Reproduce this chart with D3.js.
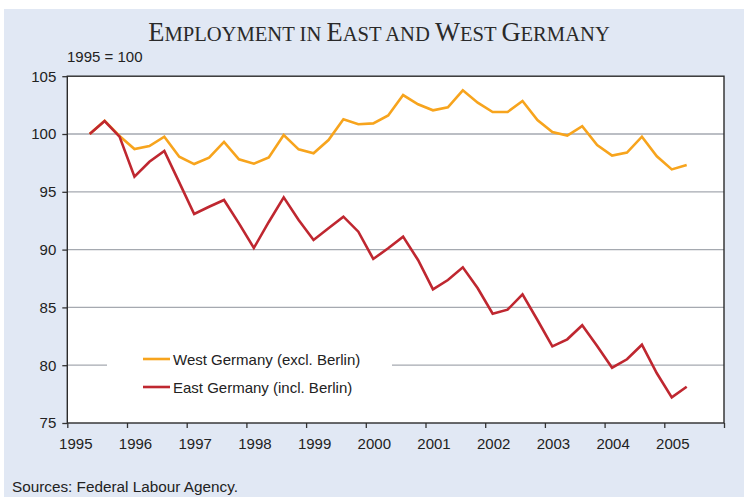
<!DOCTYPE html>
<html>
<head>
<meta charset="utf-8">
<script src="https://cdn.jsdelivr.net/npm/d3@7"></script>
<style>
  html, body { margin: 0; padding: 0; background: #ffffff; }
  svg { display: block; }
</style>
</head>
<body>
<svg id="chart" width="744" height="497"></svg>
<script>
// Quarterly employment index, 1995 = 100
const quarters = [
  "1995-Q2","1995-Q3","1995-Q4",
  "1996-Q1","1996-Q2","1996-Q3","1996-Q4",
  "1997-Q1","1997-Q2","1997-Q3","1997-Q4",
  "1998-Q1","1998-Q2","1998-Q3","1998-Q4",
  "1999-Q1","1999-Q2","1999-Q3","1999-Q4",
  "2000-Q1","2000-Q2","2000-Q3","2000-Q4",
  "2001-Q1","2001-Q2","2001-Q3","2001-Q4",
  "2002-Q1","2002-Q2","2002-Q3","2002-Q4",
  "2003-Q1","2003-Q2","2003-Q3","2003-Q4",
  "2004-Q1","2004-Q2","2004-Q3","2004-Q4",
  "2005-Q1","2005-Q2"
];

const westGermany = [
  100.0, 101.15, 99.83,
  98.7, 98.96, 99.77, 98.04,
  97.4, 97.95, 99.31, 97.81,
  97.43, 97.98, 99.91, 98.67,
  98.33, 99.48, 101.27, 100.84,
  100.92, 101.6, 103.37, 102.57,
  102.05, 102.31, 103.78, 102.71,
  101.9, 101.9, 102.85, 101.21,
  100.17, 99.86, 100.67, 99.05,
  98.13, 98.39, 99.77, 98.07,
  96.94, 97.32
];

const eastGermany = [
  100.0, 101.12, 99.77,
  96.31, 97.6, 98.53, 95.82,
  93.08, 93.71, 94.29, 92.27,
  90.14, 92.39, 94.52, 92.56,
  90.83, 91.84, 92.85, 91.55,
  89.19, 90.11, 91.12, 89.1,
  86.56, 87.37, 88.47, 86.65,
  84.45, 84.8, 86.13, 83.91,
  81.63, 82.24, 83.45, 81.66,
  79.78, 80.51, 81.77, 79.3,
  77.22, 78.14
];

const yearTicks = [1995, 1996, 1997, 1998, 1999, 2000, 2001, 2002, 2003, 2004, 2005, 2006];
const yearLabels = ["1995","1996","1997","1998","1999","2000","2001","2002","2003","2004","2005",""];
const valueTicks = [75, 80, 85, 90, 95, 100, 105];

const seriesNames = ["West Germany (excl. Berlin)", "East Germany (incl. Berlin)"];
const seriesColors = ["#f7a41d", "#bf2730"];

// quarter label -> fractional year at the middle of the quarter
function quarterPos(q) {
  const [y, qq] = q.split("-Q").map(Number);
  return y + (qq - 0.5) / 4;
}

const svg = d3.select("#chart");
const W = 744, H = 497;
const plot = { left: 67.3, right: 724, top: 76.2, bottom: 423 };
const sans = "'Liberation Sans', Arial, sans-serif";
const fs = 15;

// panel background
svg.append("rect").attr("x", 4).attr("y", 9).attr("width", W - 4).attr("height", H - 9)
  .attr("fill", "#e1e8f4");

const x = d3.scaleLinear().domain([1995, 2006]).range([plot.left, plot.right]);
const y = d3.scaleLinear().domain([75, 105]).range([plot.bottom, plot.top]);

// plot area
svg.append("rect")
  .attr("x", plot.left).attr("y", plot.top)
  .attr("width", plot.right - plot.left).attr("height", plot.bottom - plot.top)
  .attr("fill", "#ffffff");

// horizontal grid lines
svg.append("g").selectAll("line")
  .data(valueTicks.filter(v => v > 75 && v < 105))
  .join("line")
  .attr("x1", plot.left).attr("x2", plot.right)
  .attr("y1", d => y(d)).attr("y2", d => y(d))
  .attr("stroke", "#a5a9b0").attr("stroke-width", 1.3);

// title in small capitals
const title = svg.append("text")
  .attr("x", 379).attr("y", 41)
  .attr("text-anchor", "middle")
  .attr("font-family", "'Liberation Serif', 'Times New Roman', serif")
  .attr("fill", "#2a2a2a");
[["E", 26.5], ["MPLOYMENT IN ", 20.6], ["E", 26.5], ["AST AND ", 20.6], ["W", 26.5], ["EST ", 20.6], ["G", 26.5], ["ERMANY", 20.6]]
  .forEach(([t, s]) => title.append("tspan").attr("font-size", s).text(t));

svg.append("text")
  .attr("x", 67).attr("y", 62)
  .attr("font-family", sans)
  .attr("font-size", fs).attr("fill", "#222")
  .text("1995 = 100");

// axes
const yAxis = svg.append("g")
  .attr("transform", `translate(${plot.left},0)`)
  .call(d3.axisLeft(y).tickValues(valueTicks).tickSize(5).tickPadding(6).tickFormat(d3.format("d")));
yAxis.select(".domain").remove();
yAxis.selectAll(".tick line").attr("stroke", "#333").attr("stroke-width", 1.3);
yAxis.selectAll(".tick text")
  .attr("font-family", sans)
  .attr("font-size", fs).attr("fill", "#222");

const xAxis = svg.append("g")
  .attr("transform", `translate(0,${plot.bottom})`)
  .call(d3.axisBottom(x).tickValues(yearTicks).tickSize(5).tickPadding(10)
    .tickFormat((d, i) => yearLabels[i]));
xAxis.select(".domain").remove();
xAxis.selectAll(".tick line").attr("stroke", "#333").attr("stroke-width", 1.3);
xAxis.selectAll(".tick text")
  .attr("dx", 8)
  .attr("font-family", sans)
  .attr("font-size", fs).attr("fill", "#222");

// legend box masks the grid line behind it
const legend = svg.append("g");
legend.append("rect")
  .attr("x", 107).attr("y", 345).attr("width", 285).attr("height", 58)
  .attr("fill", "#ffffff");

// series lines
const line = d3.line()
  .x((d, i) => x(quarterPos(quarters[i])))
  .y(d => y(d));

[westGermany, eastGermany].forEach((vals, i) => {
  svg.append("path")
    .datum(vals)
    .attr("d", line)
    .attr("fill", "none")
    .attr("stroke", seriesColors[i])
    .attr("stroke-width", 2.6)
    .attr("stroke-linejoin", "miter");
});

// frame
svg.append("rect")
  .attr("x", plot.left).attr("y", plot.top)
  .attr("width", plot.right - plot.left).attr("height", plot.bottom - plot.top)
  .attr("fill", "none").attr("stroke", "#2b2b2b").attr("stroke-width", 1.4);

// legend entries
seriesNames.forEach((name, i) => {
  const ly = 359 + i * 28;
  legend.append("line")
    .attr("x1", 143).attr("x2", 170).attr("y1", ly).attr("y2", ly)
    .attr("stroke", seriesColors[i]).attr("stroke-width", 2.6);
  legend.append("text")
    .attr("x", 173).attr("y", ly + 5.5)
    .attr("font-family", sans)
    .attr("font-size", fs).attr("fill", "#222")
    .text(name);
});

svg.append("text")
  .attr("x", 12).attr("y", 492)
  .attr("font-family", sans)
  .attr("font-size", 15.3).attr("fill", "#222")
  .text("Sources: Federal Labour Agency.");
</script>
</body>
</html>
